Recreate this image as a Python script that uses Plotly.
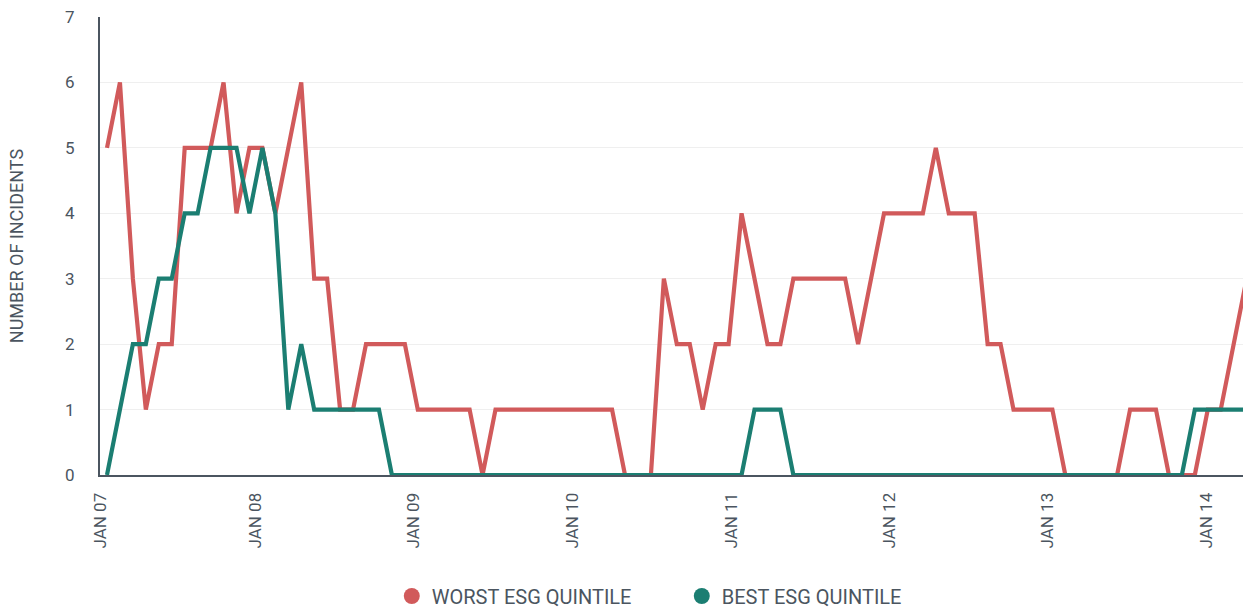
import plotly.graph_objects as go

# Monthly incident counts (period index 0 = Jan 2007)
worst_esg = [5, 6, 3, 1, 2, 2, 5, 5, 5, 6, 4, 5, 5, 4, 5, 6, 3, 3, 1, 1,
             2, 2, 2, 2, 1, 1, 1, 1, 1, 0, 1, 1, 1, 1, 1, 1, 1, 1, 1, 1,
             0, 0, 0, 3, 2, 2, 1, 2, 2, 4, 3, 2, 2, 3, 3, 3, 3, 3, 2, 3,
             4, 4, 4, 4, 5, 4, 4, 4, 2, 2, 1, 1, 1, 1, 0, 0, 0, 0, 0, 1,
             1, 1, 0, 0, 0, 1, 1, 2, 3]
best_esg = [0, 1, 2, 2, 3, 3, 4, 4, 5, 5, 5, 4, 5, 4, 1, 2, 1, 1, 1, 1,
            1, 1, 0, 0, 0, 0, 0, 0, 0, 0, 0, 0, 0, 0, 0, 0, 0, 0, 0, 0,
            0, 0, 0, 0, 0, 0, 0, 0, 0, 0, 1, 1, 1, 0, 0, 0, 0, 0, 0, 0,
            0, 0, 0, 0, 0, 0, 0, 0, 0, 0, 0, 0, 0, 0, 0, 0, 0, 0, 0, 0,
            0, 0, 0, 0, 1, 1, 1, 1, 1]
period = list(range(len(worst_esg)))

tick_labels = ["JAN 07", "JAN 08", "JAN 09", "JAN 10", "JAN 11", "JAN 12", "JAN 13", "JAN 14"]
tick_periods = [-0.53, 11.48, 23.70, 35.98, 48.24, 60.46, 72.66, 84.90]
y_ticks = [0, 1, 2, 3, 4, 5, 6, 7]

RED = "#d15a5b"
GREEN = "#1b7e72"
TEXT = "#4b5560"
FONT = "Roboto"

fig = go.Figure()
fig.add_trace(go.Scatter(x=period, y=worst_esg, mode="lines",
                         line=dict(color=RED, width=4.2), showlegend=False, hoverinfo="skip"))
fig.add_trace(go.Scatter(x=period, y=best_esg, mode="lines",
                         line=dict(color=GREEN, width=4.2), showlegend=False, hoverinfo="skip"))
fig.add_trace(go.Scatter(x=[None], y=[None], mode="markers", name="WORST ESG QUINTILE",
                         marker=dict(color=RED, size=18, symbol="circle")))
fig.add_trace(go.Scatter(x=[None], y=[None], mode="markers", name="BEST ESG QUINTILE",
                         marker=dict(color=GREEN, size=18, symbol="circle")))

fig.update_layout(
    width=1243, height=609,
    margin=dict(l=100, r=0, t=17, b=134, autoexpand=False),
    plot_bgcolor="white", paper_bgcolor="white",
    font=dict(family=FONT, color=TEXT, size=14),
    legend=dict(orientation="h", x=0.509, xanchor="center",
                yref="container", y=13 / 609, yanchor="middle",
                font=dict(size=20, color=TEXT), itemsizing="trace", traceorder="normal",
                entrywidth=245),
    xaxis=dict(range=[-0.54, 87.72], tickmode="array", tickvals=tick_periods, ticktext=tick_labels,
               tickangle=-90, showgrid=False, zeroline=False, showline=True, linecolor="#4b5560",
               linewidth=2, ticks="", ticklabelstandoff=9, tickfont=dict(size=17, color=TEXT),
               automargin=False),
    yaxis=dict(range=[0, 7], tickmode="array", tickvals=y_ticks, showgrid=True, gridcolor="#efefef",
               gridwidth=1, zeroline=False, showline=True, linecolor="#4b5560", linewidth=2,
               ticks="", ticklabelstandoff=20, tickfont=dict(size=17, color=TEXT), automargin=False,
               title=dict(text="NUMBER OF INCIDENTS", font=dict(size=18, color=TEXT), standoff=37)),
)

fig.write_html("out.html", config={"displayModeBar": False},
               post_script="document.body.style.margin='0';document.body.style.overflow='hidden';")
